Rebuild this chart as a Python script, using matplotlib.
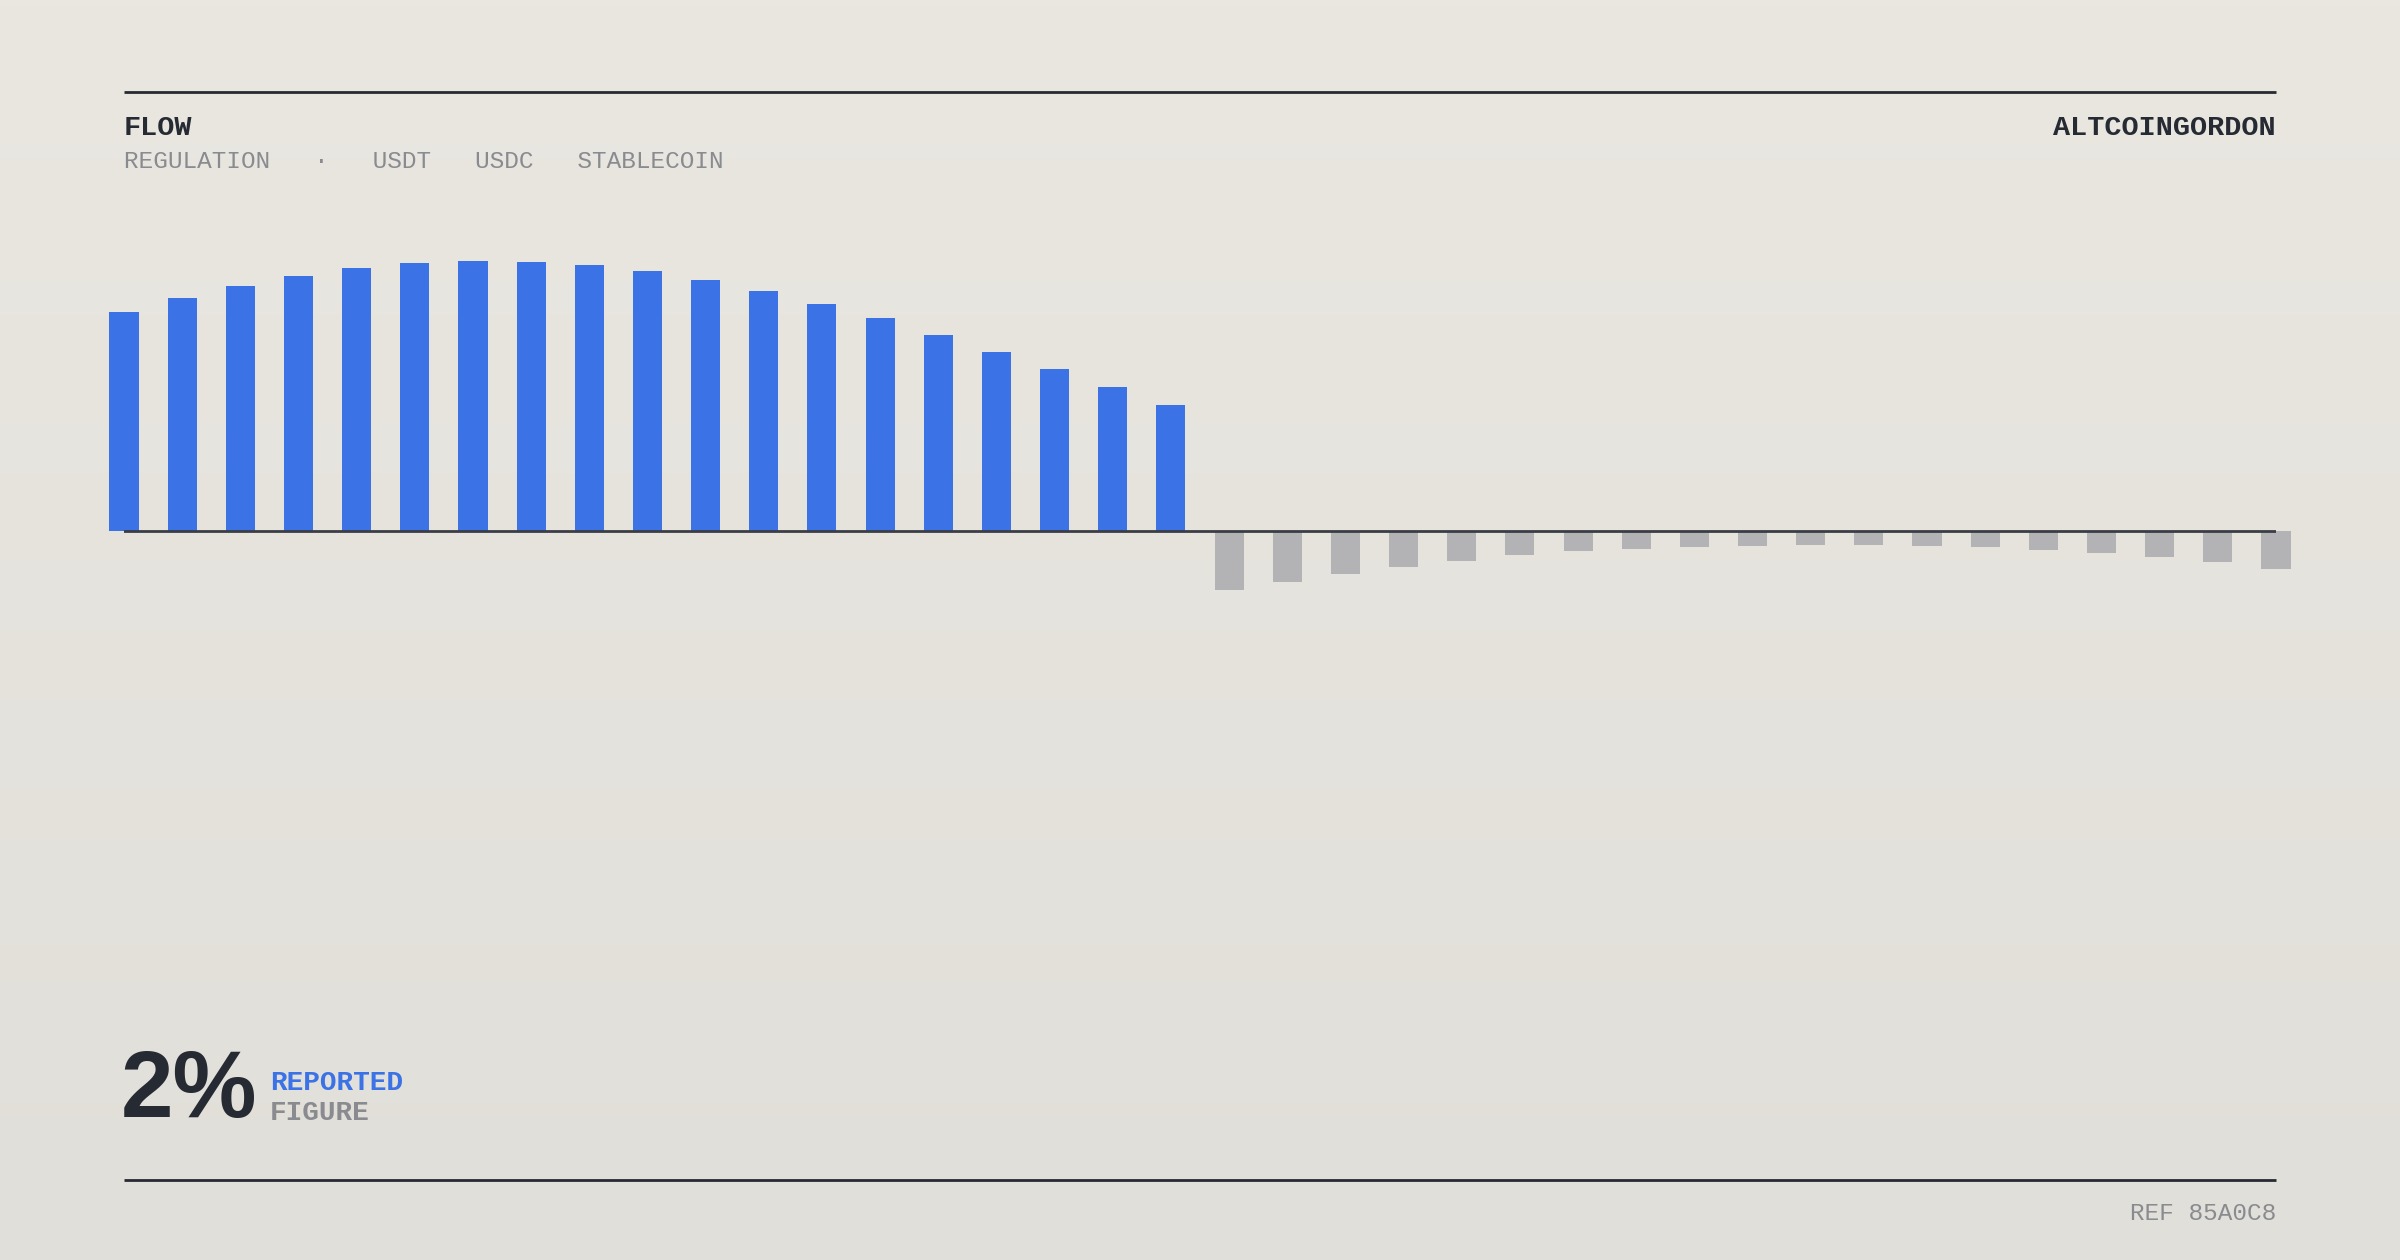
import numpy as np
import matplotlib
matplotlib.use("Agg")
import matplotlib.pyplot as plt
from matplotlib.lines import Line2D
from matplotlib.colors import LinearSegmentedColormap

# ---- data ----
inflow = [8.10, 8.63, 9.07, 9.44, 9.73, 9.91, 9.99, 9.96, 9.84, 9.62,
          9.30, 8.89, 8.41, 7.88, 7.26, 6.63, 5.99, 5.32, 4.67]
outflow = [-2.20, -1.89, -1.59, -1.34, -1.11, -0.90, -0.75, -0.67, -0.60, -0.56,
           -0.53, -0.53, -0.56, -0.60, -0.69, -0.81, -0.96, -1.16, -1.41]
title = "FLOW"
subtitle = "REGULATION   ·   USDT   USDC   STABLECOIN"
brand = "ALTCOINGORDON"
kpi_value = "2%"
kpi_label_top = "REPORTED"
kpi_label_bottom = "FIGURE"
ref_code = "REF 85A0C8"

# ---- style ----
W, H = 2400, 1260
BLUE = "#3B72E6"
GRAY_BAR = "#B3B3B5"
DARK = "#262A33"
MUTED = "#8A8B90"
MONO = ["Liberation Mono", "DejaVu Sans Mono"]
SANS = ["Liberation Sans", "DejaVu Sans"]

fig = plt.figure(figsize=(W / 100, H / 100), dpi=100)
fig.patch.set_facecolor("#E6E3DD")

# background gradient
bg = fig.add_axes([0, 0, 1, 1], zorder=-10)
cmap = LinearSegmentedColormap.from_list("bg", ["#E1DFD9", "#EAE7E1"])
grad = np.linspace(0, 1, 256).reshape(-1, 1)
bg.imshow(grad, aspect="auto", cmap=cmap, origin="lower", extent=[0, 1, 0, 1])
bg.axis("off")

def fx(px):
    return px / W

def fy(py):
    return 1 - py / H

# rules
for yy in (92, 1180):
    fig.add_artist(Line2D([fx(124), fx(2276)], [fy(yy), fy(yy)],
                          transform=fig.transFigure, color=DARK, lw=2.0,
                          solid_capstyle="butt"))

# header texts
fig.text(fx(124), fy(135), title, family=MONO, weight="bold", fontsize=20.5,
         color=DARK, ha="left", va="baseline")
fig.text(fx(2276), fy(135), brand, family=MONO, weight="bold", fontsize=20.5,
         color=DARK, ha="right", va="baseline")
fig.text(fx(124), fy(167.5), subtitle, family=MONO, fontsize=17.6,
         color=MUTED, ha="left", va="baseline")

# KPI
fig.text(fx(121), fy(1117), kpi_value, family=SANS,
         weight="bold", fontsize=68, color=DARK, ha="left", va="baseline")
fig.text(fx(270), fy(1090), kpi_label_top, family=MONO, weight="bold",
         fontsize=20, color=BLUE, ha="left", va="baseline")
fig.text(fx(270), fy(1120), kpi_label_bottom, family=MONO, weight="bold",
         fontsize=20, color=MUTED, ha="left", va="baseline")

# footer
fig.text(fx(2276), fy(1220), ref_code, family=MONO, fontsize=17.6,
         color=MUTED, ha="right", va="baseline")

# ---- chart ----
ax_top, ax_bot, base_px = 240, 620, 531
ax = fig.add_axes([fx(124), fy(ax_bot), fx(2276) - fx(124), (ax_bot - ax_top) / H])
ax.patch.set_alpha(0)
n_in, n_out = len(inflow), len(outflow)
x_in = np.arange(n_in)
x_out = np.arange(n_in, n_in + n_out)
ax.bar(x_in, inflow, width=0.5, color=BLUE, clip_on=False, zorder=2)
ax.bar(x_out, outflow, width=0.5, color=GRAY_BAR, clip_on=False, zorder=2)
ax.axhline(0, color="#3A3D45", lw=2.0, zorder=3)
ax.set_xlim(0, n_in + n_out - 1)
ppu = 27.0
ax.set_ylim(-(ax_bot - base_px) / ppu, (base_px - ax_top) / ppu)
ax.axis("off")

fig.savefig("out.png", dpi=100, facecolor=fig.get_facecolor())
